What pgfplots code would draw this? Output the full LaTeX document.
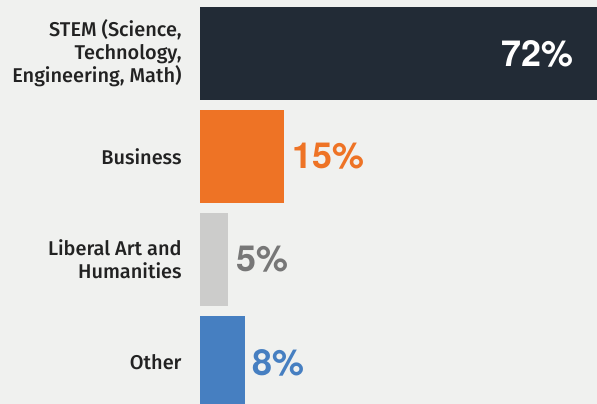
\documentclass[border=0pt]{standalone}
\usepackage{fontspec}
\setmainfont{Fira Sans}[UprightFont = * Medium]
\newfontfamily\valfont{texgyreheros-bold}[Extension=.otf]
\usepackage{pgfplots}
\pgfplotsset{compat=1.18}
\definecolor{bgc}{HTML}{F0F1EF}
\definecolor{navy}{HTML}{222B36}
\definecolor{orng}{HTML}{EE7325}
\definecolor{lgray}{HTML}{CCCCCB}
\definecolor{dgray}{HTML}{777777}
\definecolor{blu}{HTML}{467FC1}
\definecolor{txt}{HTML}{222222}
\begin{document}
\begin{tikzpicture}
\fill[bgc] (-200bp,0) rectangle (397bp,404bp);
\begin{axis}[
  at={(0,0)}, anchor=south west,
  scale only axis, width=397bp, height=404bp,
  xbar, bar width=93bp, bar shift=0pt,
  xmin=0, xmax=70.9,
  ymin=-0.519, ymax=3.403, y dir=reverse,
  axis line style={draw=none},
  tick style={draw=none},
  xtick=\empty,
  ytick={0,1,2,3},
  yticklabels={{STEM (Science,\\Technology,\\Engineering, Math)}, Business, {Liberal Art and\\Humanities}, Other},
  yticklabel style={align=right, font=\fontsize{20}{23}\selectfont, text=txt, inner sep=0pt, xshift=-14bp},
  clip=false,
  nodes near coords,
  point meta=explicit symbolic,
  every node near coord/.append style={font=\valfont\fontsize{36}{36}\selectfont, inner sep=0pt, anchor=west, xshift=8bp},
]
\addplot[fill=navy, draw=none, every node near coord/.append style={anchor=east, xshift=-38bp, text=white}] coordinates {(72,0) [72\%]};
\addplot[fill=orng, draw=none, every node near coord/.append style={text=orng}] coordinates {(15,1) [15\%]};
\addplot[fill=lgray, draw=none, every node near coord/.append style={text=dgray}] coordinates {(5,2) [5\%]};
\addplot[fill=blu, draw=none, every node near coord/.append style={text=blu}] coordinates {(8,3) [8\%]};
\end{axis}
\pgfresetboundingbox
\useasboundingbox (-200bp,0) rectangle (397bp,404bp);
\end{tikzpicture}
\end{document}
